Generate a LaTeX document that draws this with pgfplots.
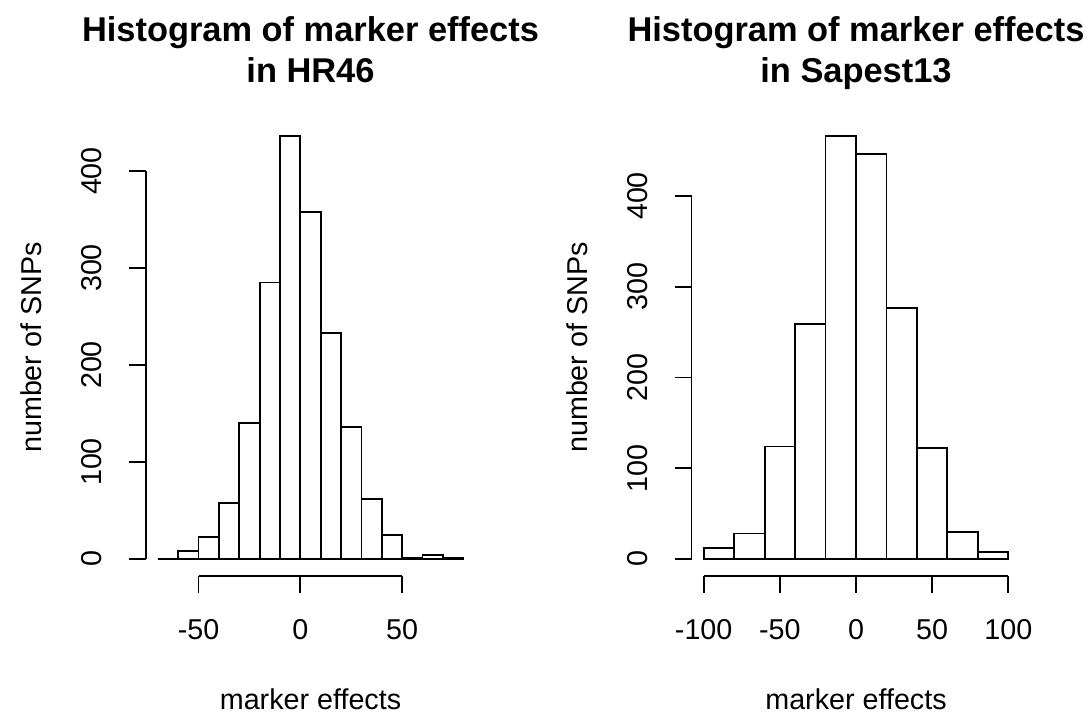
\documentclass[border=0pt]{standalone}
\usepackage{fontspec}
\setmainfont{Liberation Sans}
\usepackage{pgfplots}
\pgfplotsset{compat=1.18}
\newcommand{\lab}{\fontsize{14.35}{17}\selectfont}
\newcommand{\ttl}{\fontsize{17.2}{20.6}\selectfont\bfseries}
\pgfplotsset{
  rstyle/.style={
    scale only axis,
    anchor=south west,
    height=228.35pt,
    axis x line*=bottom,
    axis y line*=left,
    axis line style={draw=none},
    tick align=outside,
    major tick length=8.5pt,
    every tick/.style={black, line width=0.9pt},
    /pgf/number format/assume math mode=true,
    tick label style={font=\lab},
    xticklabel style={anchor=base, yshift=-23.15pt},
    yticklabel style={xshift=-13.3pt, rotate=90, anchor=base},
    xlabel style={at={(axis description cs:0.5,0)}, anchor=base, yshift=-66.7pt, font=\lab},
    ylabel style={at={(axis description cs:0,0.5)}, anchor=base, yshift=51.95pt, font=\lab},
    xlabel={marker effects},
    ylabel={number of SNPs},
    ytick={0,100,200,300,400},
    clip=false,
  }
}
\begin{document}
\begin{tikzpicture}
\path[use as bounding box] (0,0) rectangle (546pt,357.5pt);
% Left: HR46
\begin{axis}[rstyle, at={(72.8pt,69.55pt)}, width=164.9pt,
  xmin=-76, xmax=86, ymin=-17.44, ymax=453.44,
  xtick={-50,0,50}]
\addplot[ybar interval, draw=black, fill=white, line width=0.9pt] coordinates {
(-70,0) (-60,8) (-50,23) (-40,58) (-30,140) (-20,285) (-10,436) (0,358)
(10,233) (20,136) (30,62) (40,25) (50,1) (60,4) (70,1) (80,0)};
\draw[line width=0.9pt] (axis cs:-50,-17.44) -- (axis cs:50,-17.44);
\draw[line width=0.9pt] (axis cs:-76,0) -- (axis cs:-76,400);
\node[anchor=base, font=\ttl, yshift=38.75pt] at (axis description cs:0.5,1) {Histogram of marker effects};
\node[anchor=base, font=\ttl, yshift=18.1pt] at (axis description cs:0.5,1) {in HR46};
\end{axis}
% Right: Sapest13
\begin{axis}[rstyle, at={(345.75pt,69.55pt)}, width=164.5pt,
  xmin=-108, xmax=108, ymin=-18.64, ymax=484.64,
  xtick={-100,-50,0,50,100}]
\addplot[ybar interval, draw=black, fill=white, line width=0.9pt] coordinates {
(-100,12) (-80,28) (-60,124) (-40,259) (-20,466) (0,446) (20,277)
(40,122) (60,30) (80,8) (100,0)};
\draw[line width=0.9pt] (axis cs:-100,-18.64) -- (axis cs:100,-18.64);
\draw[line width=0.9pt] (axis cs:-108,0) -- (axis cs:-108,400);
\node[anchor=base, font=\ttl, yshift=38.75pt] at (axis description cs:0.5,1) {Histogram of marker effects};
\node[anchor=base, font=\ttl, yshift=18.1pt] at (axis description cs:0.5,1) {in Sapest13};
\end{axis}
\end{tikzpicture}
\end{document}
